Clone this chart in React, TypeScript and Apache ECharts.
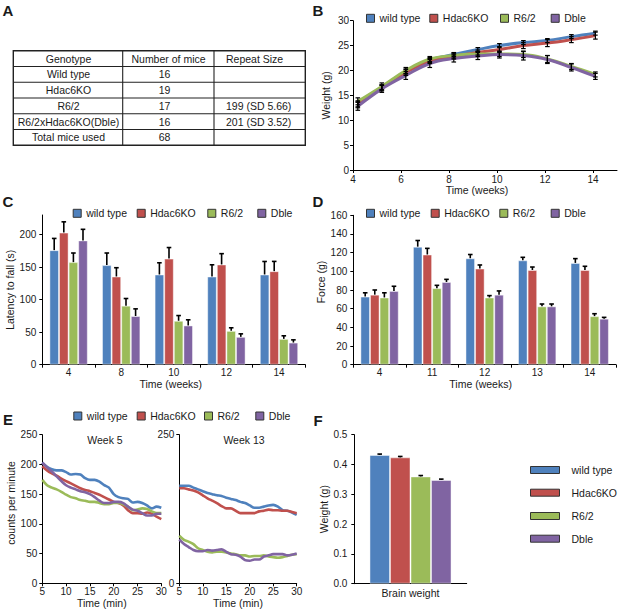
import React, { useEffect, useRef } from "react";
import * as echarts from "echarts";

// ---------- data ----------
const groupNames = ["wild type", "Hdac6KO", "R6/2", "Dble"];
const groupColors = ["#4F81BD", "#C0504D", "#9BBB59", "#8064A2"];

// Panel A table
const tableHeaders = ["Genotype", "Number of mice", "Repeat Size"];
const genotypes = ["Wild type", "Hdac6KO", "R6/2", "R6/2xHdac6KO(Dble)", "Total mice used"];
const mouseCounts = ["16", "19", "17", "16", "68"];
const repeatSizes = ["", "", "199 (SD 5.66)", "201 (SD 3.52)", ""];

// Panel B body weight
const weeksB = [4.2, 5.2, 6.2, 7.2, 8.2, 9.2, 10.1, 11.1, 12.1, 13.1, 14.1];
const bTicks = [4, 6, 8, 10, 12, 14];
const wtWeight = [13.3, 16.6, 19.8, 22.1, 23.2, 24.2, 25.0, 25.6, 26.0, 26.8, 27.5];
const hdacWeight = [13.1, 16.5, 19.6, 21.9, 22.8, 23.6, 24.2, 25.0, 25.5, 26.2, 27.0];
const r62Weight = [13.8, 16.8, 20.0, 22.3, 23.0, 23.3, 23.3, 23.2, 22.3, 20.8, 19.2];
const dbleWeight = [12.8, 16.3, 19.0, 21.4, 22.4, 22.9, 23.2, 23.0, 22.2, 20.6, 18.8];
const wtWeightErr = [0.6, 0.5, 0.5, 0.5, 0.4, 0.4, 0.4, 0.4, 0.4, 0.4, 0.4];
const hdacWeightErr = [0.6, 0.6, 0.6, 0.5, 0.5, 0.5, 0.6, 0.6, 0.7, 0.6, 0.7];
const r62WeightErr = [0.7, 0.7, 0.6, 0.5, 0.5, 0.5, 0.5, 0.6, 0.7, 0.6, 0.5];
const dbleWeightErr = [0.8, 0.7, 0.8, 0.8, 0.7, 0.7, 0.7, 0.9, 0.8, 0.7, 0.6];

// Panel C latency to fall
const weeksC = ["4", "8", "10", "12", "14"];
const cTicks = [0, 50, 100, 150, 200];
const wtLatency = [176, 153, 138.6, 135.5, 138.6];
const hdacLatency = [203, 135.5, 163, 154, 143.7];
const r62Latency = [157.6, 90.7, 67.5, 52, 39.7];
const dbleLatency = [191, 74.8, 60.3, 42.8, 34];
const wtLatencyErr = [18, 18.6, 18, 18, 20];
const hdacLatencyErr = [16.5, 13.5, 17, 16.6, 15];
const r62LatencyErr = [14, 11, 8, 4.7, 4.7];
const dbleLatencyErr = [17, 11, 8.7, 4.6, 4.2];

// Panel D grip force
const weeksD = ["4", "11", "12", "13", "14"];
const wtForce = [73, 126.4, 114, 111.8, 109];
const hdacForce = [75, 118, 103, 101.4, 101.4];
const r62Force = [72, 82, 72, 62.5, 52];
const dbleForce = [79, 88.6, 75, 62.5, 49.3];
const wtForceErr = [4, 6.6, 4, 3.2, 4.6];
const hdacForceErr = [5, 6.6, 3.8, 3.2, 4];
const r62ForceErr = [5, 3, 2, 2.5, 2.6];
const dbleForceErr = [5, 2.8, 4, 2.5, 1.4];

// Panel E activity
const minutes = [5, 6, 7, 8, 9, 10, 11, 12, 13, 14, 15, 16, 17, 18, 19, 20, 21, 22, 23, 24, 25, 26, 27, 28, 29, 30];
const wtWeek5 = [203, 196, 192, 190, 190, 187, 183, 184, 183, 177, 174, 174, 171, 165, 161, 150, 145, 143, 142, 136, 137, 135, 131, 126, 129, 127];
const hdacWeek5 = [197, 190, 185, 181, 176, 172, 168, 164, 160, 157, 155, 152, 149, 145, 141, 137, 135, 131, 123, 118, 118, 117, 119, 117, 112, 108];
const r62Week5 = [174, 165, 161, 158, 154, 149, 145, 143, 140, 139, 137, 137, 135, 133, 133, 135, 135, 133, 129, 123, 124, 126, 125, 121, 118, 118];
const dbleWeek5 = [203, 195, 188, 180, 172, 165, 161, 158, 155, 153, 150, 145, 139, 135, 135, 137, 137, 135, 129, 124, 122, 118, 114, 114, 117, 117];
const wtWeek13 = [164, 164, 164, 161, 158, 155, 152, 150, 148, 147, 144, 142, 140, 137, 135, 131, 127, 127, 129, 131, 132, 129, 123, 122, 119, 115];
const hdacWeek13 = [160, 160, 158, 156, 153, 148, 143, 139, 135, 130, 126, 126, 122, 118, 118, 118, 118, 121, 122, 124, 123, 123, 122, 122, 120, 118];
const r62Week13 = [80, 73, 70, 66, 59, 56, 53, 52, 53, 53, 52, 50, 49, 47, 47, 45, 46, 46, 47, 45, 44, 43, 44, 46, 48, 49];
const dbleWeek13 = [74, 66, 61, 56, 54, 54, 56, 55, 56, 57, 53, 49, 48, 45, 39, 38, 40, 40, 45, 47, 49, 49, 49, 47, 48, 50];

// Panel F brain weight
const brainCategory = ["Brain weight"];
const brainWeight = [0.432, 0.424, 0.36, 0.348];
const brainWeightErr = [0.003, 0.003, 0.003, 0.003];

// ---------- styling helpers ----------
const FONT = "'Liberation Sans', Arial, Helvetica, sans-serif";
const TXT = "#1a1a1a";
const BAR_GAP = 0.27;

const axisLine = { show: true, lineStyle: { color: "#000", width: 1 } };
const axisTick = { show: true, length: 3, lineStyle: { color: "#000", width: 1 } };
const label = (margin: number, extra: any = {}) => ({
  color: TXT, fontSize: 10, fontFamily: FONT, margin, ...extra,
});
const nameStyle = (padding: number[] = [0, 0, 0, 0]) => ({
  color: TXT, fontSize: 10.5, fontFamily: FONT, padding,
});

const legendItem = (name: string, left: number, cy: number, wide = false) => ({
  data: [name],
  left,
  top: cy - 6.5,
  padding: 0,
  icon: "rect",
  itemWidth: wide ? 29 : 8,
  itemHeight: wide ? 7 : 8,
  selectedMode: false,
  itemStyle: { borderColor: "#333", borderWidth: 1 },
  textStyle: {
    color: TXT, fontSize: 10.5, fontFamily: FONT, lineHeight: 13,
    padding: wide ? [0, 0, 0, 7] : 0,
  },
});

const lineErrRender = (params: any, api: any) => {
  const x = api.value(0), y = api.value(1), e = api.value(2);
  const hi = api.coord([x, y + e]);
  const lo = api.coord([x, y - e]);
  const w = 2.3;
  const st = { stroke: "#000", lineWidth: 1.2 };
  return {
    type: "group",
    children: [
      { type: "line", shape: { x1: hi[0], y1: hi[1], x2: lo[0], y2: lo[1] }, style: st },
      { type: "line", shape: { x1: hi[0] - w, y1: hi[1], x2: hi[0] + w, y2: hi[1] }, style: st },
      { type: "line", shape: { x1: lo[0] - w, y1: lo[1], x2: lo[0] + w, y2: lo[1] }, style: st },
    ],
  };
};

const barErrRender = (params: any, api: any) => {
  const ci = api.value(0), si = api.value(1), v = api.value(2), e = api.value(3);
  const base = api.coord([ci, v]);
  const top = api.coord([ci, v + e]);
  const band = api.size([1, 0])[0];
  const total = band * (1 - BAR_GAP);
  const bw = total / 4;
  const x = base[0] - total / 2 + (si + 0.5) * bw;
  const st = { stroke: "#000", lineWidth: 1.6 };
  return {
    type: "group",
    children: [
      { type: "line", shape: { x1: x, y1: base[1], x2: x, y2: top[1] }, style: st },
      { type: "line", shape: { x1: x - 2.3, y1: top[1], x2: x + 2.3, y2: top[1] }, style: st },
    ],
  };
};

const barSeries = (idx: number, values: number[], axis: number) => ({
  type: "bar",
  name: groupNames[idx],
  xAxisIndex: axis,
  yAxisIndex: axis,
  data: values,
  barGap: "0%",
  barCategoryGap: "27%",
  itemStyle: { color: groupColors[idx], borderColor: "rgba(255,255,255,0.45)", borderWidth: 1 },
});

const barErrSeries = (valueSets: number[][], errSets: number[][], axis: number, id: string) => ({
  type: "custom",
  name: id,
  xAxisIndex: axis,
  yAxisIndex: axis,
  renderItem: barErrRender,
  encode: { x: 0, y: 2 },
  z: 5,
  data: valueSets.flatMap((vals, si) => vals.map((v, ci) => [ci, si, v, errSets[si][ci]])),
});

const lineSeriesE = (idx: number, values: number[], axis: number) => ({
  type: "line",
  name: groupNames[idx],
  xAxisIndex: axis,
  yAxisIndex: axis,
  data: values.map((v, i) => [minutes[i], v]),
  showSymbol: false,
  smooth: 0.3,
  lineStyle: { color: groupColors[idx], width: 2.6 },
  itemStyle: { color: groupColors[idx] },
});

const text = (t: string, x: number, y: number, font: string, align = "center") => ({
  type: "text",
  x,
  y,
  silent: true,
  style: {
    text: t, font, fill: TXT,
    textAlign: align, align, textVerticalAlign: "middle", verticalAlign: "middle",
  },
});

function buildTable() {
  const x0 = 13.3, x1 = 122.7, x2 = 214, x3 = 305.3;
  const y0 = 50.7;
  const rowH = 15.77;
  const nRows = genotypes.length + 1;
  const els: any[] = [];
  const ln = { stroke: "#222", lineWidth: 1.1 };
  els.push({ type: "rect", shape: { x: x0, y: y0, width: x3 - x0, height: rowH * nRows }, style: { fill: "none", stroke: "#222", lineWidth: 1.4 } });
  for (let r = 1; r < nRows; r++) {
    els.push({ type: "line", shape: { x1: x0, y1: y0 + r * rowH, x2: x3, y2: y0 + r * rowH }, style: ln });
  }
  [x1, x2].forEach((x) => els.push({ type: "line", shape: { x1: x, y1: y0, x2: x, y2: y0 + rowH * nRows }, style: ln }));
  const f = `10.5px ${FONT}`;
  const cy = (r: number) => y0 + (r + 0.5) * rowH;
  els.push(text(tableHeaders[0], 68.5, cy(0), f));
  els.push(text(tableHeaders[1], 168.5, cy(0), f));
  els.push(text(tableHeaders[2], 226, cy(0), f, "left"));
  genotypes.forEach((g, i) => {
    els.push(text(g, 68.5, cy(i + 1), f));
    els.push(text(mouseCounts[i], 164.5, cy(i + 1), f));
    if (repeatSizes[i]) els.push(text(repeatSizes[i], 226, cy(i + 1), f, "left"));
  });
  return els;
}

export default function App() {
  const ref = useRef<HTMLDivElement>(null);
  useEffect(() => {
    if (!ref.current) return;
    const chart = echarts.init(ref.current, undefined, { renderer: "svg" });

    const gridBase = { containLabel: false, outerBoundsMode: "none" };
    const grids = [
      { ...gridBase, left: 353, top: 20.7, width: 264, height: 149.3 }, // B
      { ...gridBase, left: 42.3, top: 215, width: 263, height: 149.7 }, // C
      { ...gridBase, left: 353.3, top: 215.3, width: 262.7, height: 149.4 }, // D
      { ...gridBase, left: 42.3, top: 434.7, width: 119, height: 148.6 }, // E left
      { ...gridBase, left: 179.3, top: 434.7, width: 117.4, height: 148.6 }, // E right
      { ...gridBase, left: 354.3, top: 434.7, width: 112.4, height: 149 }, // F
    ];

    const xAxes = [
      {
        gridIndex: 0, type: "value", min: 4, max: 15, interval: 2,
        axisLine, axisTick: { ...axisTick, customValues: bTicks },
        axisLabel: label(4, { customValues: bTicks }), splitLine: { show: false },
        name: "Time (weeks)", nameLocation: "middle", nameGap: 14, nameTextStyle: nameStyle([0, 16, 0, 0]),
      },
      {
        gridIndex: 1, type: "category", data: weeksC,
        axisLine, axisTick: { ...axisTick, alignWithLabel: false }, axisLabel: label(3),
        name: "Time (weeks)", nameLocation: "middle", nameGap: 12, nameTextStyle: nameStyle([0, 6, 0, 0]),
      },
      {
        gridIndex: 2, type: "category", data: weeksD,
        axisLine, axisTick: { ...axisTick, alignWithLabel: false }, axisLabel: label(3),
        name: "Time (weeks)", nameLocation: "middle", nameGap: 12, nameTextStyle: nameStyle([0, 8, 0, 0]),
      },
      {
        gridIndex: 3, type: "value", min: 5, max: 30, interval: 5,
        axisLine, axisTick, axisLabel: label(3), splitLine: { show: false },
        name: "Time (min)", nameLocation: "middle", nameGap: 14, nameTextStyle: nameStyle(),
      },
      {
        gridIndex: 4, type: "value", min: 5, max: 30, interval: 5,
        axisLine, axisTick, axisLabel: label(3), splitLine: { show: false },
        name: "Time (min)", nameLocation: "middle", nameGap: 14, nameTextStyle: nameStyle(),
      },
      {
        gridIndex: 5, type: "category", data: brainCategory,
        axisLine, axisTick: { show: false }, axisLabel: label(4, { fontSize: 10.5 }),
      },
    ];

    const yAxes = [
      {
        gridIndex: 0, type: "value", min: 0, max: 30, interval: 5,
        axisLine, axisTick, axisLabel: label(4), splitLine: { show: false },
        name: "Weight (g)", nameLocation: "middle", nameGap: 22, nameTextStyle: nameStyle(),
      },
      {
        gridIndex: 1, type: "value", min: 0, max: 230, interval: 50,
        axisLine, axisTick: { ...axisTick, customValues: cTicks },
        axisLabel: label(6, { customValues: cTicks }), splitLine: { show: false },
        name: "Latency to fall (s)", nameLocation: "middle", nameGap: 22, nameTextStyle: nameStyle(),
      },
      {
        gridIndex: 2, type: "value", min: 0, max: 160, interval: 20,
        axisLine, axisTick, axisLabel: label(6), splitLine: { show: false },
        name: "Force (g)", nameLocation: "middle", nameGap: 21, nameTextStyle: nameStyle([0, 0, 0, 16]),
      },
      {
        gridIndex: 3, type: "value", min: 0, max: 250, interval: 50,
        axisLine, axisTick, axisLabel: label(5), splitLine: { show: false },
        name: "counts per minute", nameLocation: "middle", nameGap: 21, nameTextStyle: nameStyle([0, 0, 0, 12]),
      },
      {
        gridIndex: 4, type: "value", min: 0, max: 250, interval: 250,
        axisLine, axisTick, axisLabel: label(5), splitLine: { show: false },
      },
      {
        gridIndex: 5, type: "value", min: 0, max: 0.5, interval: 0.1,
        axisLine, axisTick, axisLabel: label(7, { formatter: (v: number) => v.toFixed(1) }), splitLine: { show: false },
        name: "Weight (g)", nameLocation: "middle", nameGap: 22, nameTextStyle: nameStyle(),
      },
    ];

    const weightSets = [wtWeight, hdacWeight, r62Weight, dbleWeight];
    const weightErrs = [wtWeightErr, hdacWeightErr, r62WeightErr, dbleWeightErr];
    const bLines = weightSets.map((vals, i) => ({
      type: "line",
      name: groupNames[i],
      xAxisIndex: 0,
      yAxisIndex: 0,
      data: vals.map((v, k) => [weeksB[k], v]),
      smooth: 0.4,
      showSymbol: false,
      lineStyle: { color: groupColors[i], width: 3 },
      itemStyle: { color: groupColors[i] },
    }));
    const bErr = weightSets.map((vals, i) => ({
      type: "custom",
      name: "errB" + i,
      xAxisIndex: 0,
      yAxisIndex: 0,
      renderItem: lineErrRender,
      encode: { x: 0, y: 1 },
      z: 5,
      data: vals.map((v, k) => [weeksB[k], v, weightErrs[i][k]]),
    }));

    const latSets = [wtLatency, hdacLatency, r62Latency, dbleLatency];
    const latErrs = [wtLatencyErr, hdacLatencyErr, r62LatencyErr, dbleLatencyErr];
    const forceSets = [wtForce, hdacForce, r62Force, dbleForce];
    const forceErrs = [wtForceErr, hdacForceErr, r62ForceErr, dbleForceErr];
    const brainSets = brainWeight.map((v) => [v]);
    const brainErrs = brainWeightErr.map((v) => [v]);

    const week5Sets = [wtWeek5, hdacWeek5, r62Week5, dbleWeek5];
    const week13Sets = [wtWeek13, hdacWeek13, r62Week13, dbleWeek13];

    const series: any[] = [
      ...bLines,
      ...bErr,
      ...latSets.map((v, i) => barSeries(i, v, 1)),
      barErrSeries(latSets, latErrs, 1, "errC"),
      ...forceSets.map((v, i) => barSeries(i, v, 2)),
      barErrSeries(forceSets, forceErrs, 2, "errD"),
      ...week5Sets.map((v, i) => lineSeriesE(i, v, 3)),
      ...week13Sets.map((v, i) => lineSeriesE(i, v, 4)),
      ...brainSets.map((v, i) => barSeries(i, v, 5)),
      barErrSeries(brainSets, brainErrs, 5, "errF"),
    ];

    const legendPos: [number[], number][] = [
      [[366, 429.3, 500, 550.7], 18.3],
      [[72.7, 136.7, 207.3, 257.3], 213.3],
      [[366, 430.7, 499.3, 550.7], 213.3],
      [[73.3, 136.7, 204, 255.3], 416],
    ];
    const legends: any[] = [];
    legendPos.forEach(([xs, cy]) => groupNames.forEach((n, i) => legends.push(legendItem(n, xs[i], cy))));
    const fLegendY = [470, 492.7, 516, 538.7];
    groupNames.forEach((n, i) => legends.push(legendItem(n, 530, fLegendY[i], true)));

    const letterFont = `bold 15px ${FONT}`;
    const graphic = [
      text("A", 8, 10, letterFont),
      text("B", 318, 10, letterFont),
      text("C", 8, 201, letterFont),
      text("D", 318, 201, letterFont),
      text("E", 8, 419.5, letterFont),
      text("F", 318, 420.5, letterFont),
      text("Week 5", 105, 440, `10.5px ${FONT}`),
      text("Week 13", 244, 440, `10.5px ${FONT}`),
      ...buildTable(),
    ];

    chart.setOption({
      animation: false,
      textStyle: { fontFamily: FONT },
      grid: grids,
      xAxis: xAxes,
      yAxis: yAxes,
      legend: legends,
      series,
      graphic,
    });
    return () => chart.dispose();
  }, []);

  return (
    <div
      ref={ref}
      style={{ position: "absolute", left: 0, top: 0, width: 621, height: 615, background: "#fff" }}
    />
  );
}
